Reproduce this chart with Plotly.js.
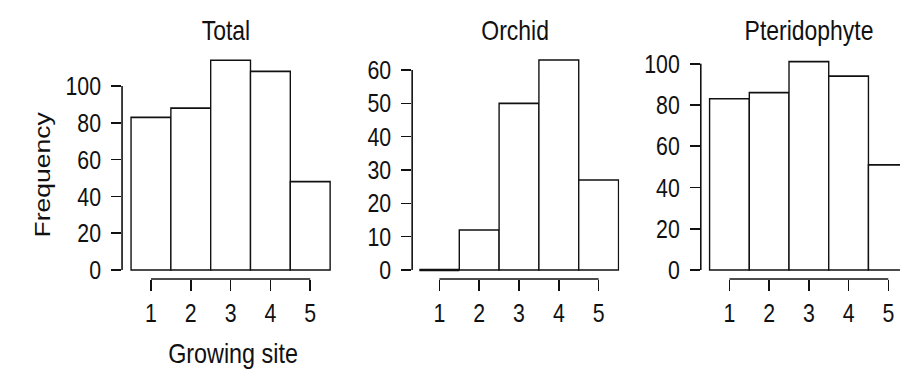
<!DOCTYPE html>
<html>
<head>
<meta charset="utf-8">
<script src="https://cdn.plot.ly/plotly-3.0.1.min.js"></script>
<style>
html,body{margin:0;padding:0;background:#fff;overflow:hidden;width:900px;height:373px;}
#chart{transform-origin:0 0;}
</style>
</head>
<body>
<div id="chart"></div>
<script>
// ---- data ----
const categories = [1, 2, 3, 4, 5];
const totalValues = [83, 88, 114, 108, 48];
const orchidValues = [0, 12, 50, 63, 27];
const pteridoValues = [83, 86, 101, 94, 51];
const panelTitles = ["Total", "Orchid", "Pteridophyte"];
const totalTicks = [0, 20, 40, 60, 80, 100];
const orchidTicks = [0, 10, 20, 30, 40, 50, 60];
const pteridoTicks = [0, 20, 40, 60, 80, 100];
const xTitle = "Growing site";
const yTitle = "Frequency";

// ---- geometry (target pixels; the figure is drawn wider and condensed horizontally) ----
const W = 900, H = 373, S = 0.82;
const PW = W / S;
const FONT = "'Liberation Sans', Arial, Helvetica, sans-serif";
const INK = "#111111";
const PAD = "\u00a0"; // spacing between y tick labels and tick marks
const zeroPx = 270, xAxisPx = 279, topPx = 45;
const panels = [
  {vals: totalValues, ticks: totalTicks, yAxisPx: 122, barLeft: 131, unit: 39.8, rightPx: 331, scale: 1.84, tshift: -5},
  {vals: orchidValues, ticks: orchidTicks, yAxisPx: 412, barLeft: 419.3, unit: 39.8, rightPx: 619, scale: 200/60, tshift: -4},
  {vals: pteridoValues, ticks: pteridoTicks, yAxisPx: 700.5, barLeft: 709.3, unit: 39.7, rightPx: 900, scale: 206.3/100, tshift: 0}
];

const chartDiv = document.getElementById("chart");
chartDiv.style.width = PW + "px";
chartDiv.style.height = H + "px";
chartDiv.style.transform = "scaleX(" + S + ")";

const data = [];
const layout = {
  width: PW, height: H,
  margin: {l: 0, r: 0, t: 0, b: 0},
  paper_bgcolor: "#fff", plot_bgcolor: "rgba(0,0,0,0)",
  showlegend: false, bargap: 0,
  font: {family: FONT, size: 26, color: INK},
  shapes: [], annotations: []
};

panels.forEach((p, i) => {
  const n = i === 0 ? "" : String(i + 1);
  data.push({
    type: "bar", x: categories, y: p.vals,
    xaxis: "x" + n, yaxis: "y" + n,
    width: 1,
    marker: {color: "#ffffff", line: {color: INK, width: 1.7}},
    hoverinfo: "skip"
  });
  // zero-height bars are drawn by R as a flat outline
  categories.forEach((c, k) => {
    if (p.vals[k] === 0) {
      data.push({
        type: "scatter", mode: "lines",
        x: [c - 0.5, c + 0.5], y: [p.vals[k], p.vals[k]],
        xaxis: "x" + n, yaxis: "y" + n,
        line: {color: INK, width: 2.6}, hoverinfo: "skip", cliponaxis: false
      });
    }
  });
  const xl = 0.5 - (p.barLeft - p.yAxisPx) / p.unit;
  const xr = 0.5 + (p.rightPx - p.barLeft) / p.unit;
  const yb = -(xAxisPx - zeroPx) / p.scale;
  const yt = (zeroPx - topPx) / p.scale;
  layout["xaxis" + n] = {
    domain: [p.yAxisPx / W, Math.min(1, p.rightPx / W)],
    range: [xl, xr], anchor: "y" + n,
    showgrid: false, zeroline: false, showline: false,
    tickvals: categories, ticktext: categories.map(String),
    ticks: "outside", ticklen: 11, tickwidth: 1.6 / S, tickcolor: INK,
    tickfont: {family: FONT, size: 26, color: INK},
    fixedrange: true
  };
  layout["yaxis" + n] = {
    domain: [1 - xAxisPx / H, 1 - topPx / H],
    range: [yb, yt], anchor: "x" + n,
    showgrid: false, zeroline: false, showline: false,
    tickvals: p.ticks, ticktext: p.ticks.map(t => String(t) + PAD),
    ticks: "outside", ticklen: 10 / S, tickwidth: 1.6, tickcolor: INK,
    tickfont: {family: FONT, size: 26, color: INK},
    fixedrange: true
  };
  // R-style axis lines spanning first..last tick
  layout.shapes.push({
    type: "line", xref: "x" + n + " domain", yref: "y" + n,
    x0: 0, x1: 0, y0: p.ticks[0], y1: p.ticks[p.ticks.length - 1],
    line: {color: INK, width: 1.6 / S}
  });
  layout.shapes.push({
    type: "line", xref: "x" + n, yref: "y" + n + " domain",
    x0: categories[0], x1: categories[categories.length - 1], y0: 0, y1: 0,
    line: {color: INK, width: 1.6}
  });
  layout.annotations.push({
    text: panelTitles[i], xref: "x" + n, yref: "paper",
    x: categories[2], y: 1 - 30 / H, xshift: p.tshift / S,
    xanchor: "center", yanchor: "middle", showarrow: false,
    font: {family: FONT, size: 28, color: INK}
  });
});

layout.annotations.push({
  text: xTitle, xref: "x", yref: "paper", x: categories[2], y: 1 - 353 / H,
  xshift: 2 / S, xanchor: "center", yanchor: "middle", showarrow: false,
  font: {family: FONT, size: 28.5, color: INK}
});
layout.annotations.push({
  text: yTitle, xref: "paper", yref: "paper", x: 43 / W, y: 1 - 174 / H,
  xanchor: "center", yanchor: "middle", textangle: -90, showarrow: false,
  font: {family: FONT, size: 26.5, color: INK}
});

Plotly.newPlot("chart", data, layout, {staticPlot: true, displayModeBar: false});
</script>
</body>
</html>
